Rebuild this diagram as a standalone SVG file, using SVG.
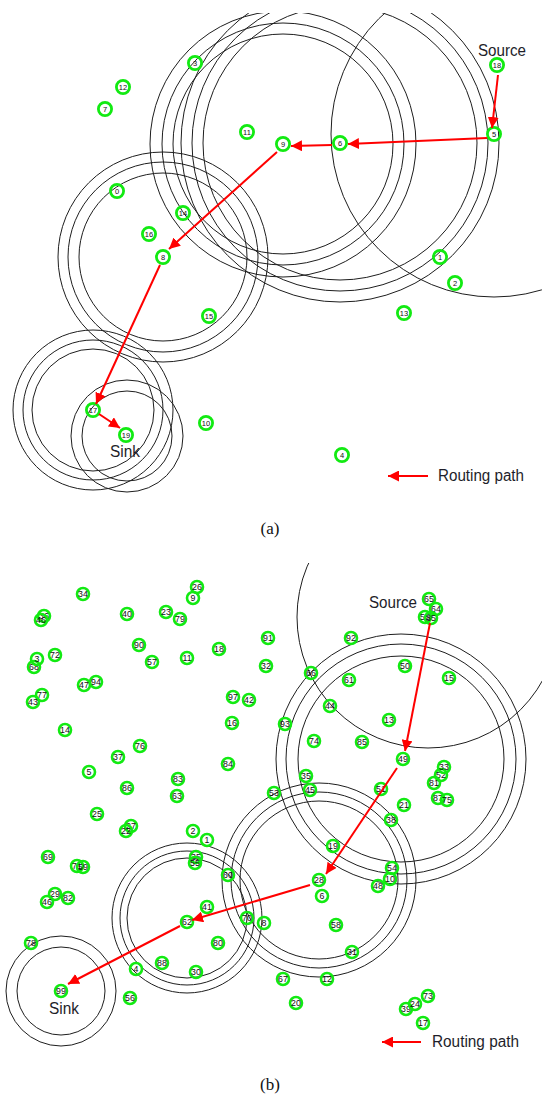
<svg xmlns="http://www.w3.org/2000/svg" width="542" height="1097" viewBox="0 0 542 1097">
<style>
.rc{fill:none;stroke:#1e1e1e;stroke-width:1}
.na circle{fill:none;stroke:#12ea12;stroke-width:2.8}
.na text{font-family:"Liberation Sans",Arial,sans-serif;font-size:7.5px;fill:#111;text-anchor:middle;dominant-baseline:central}
.nb circle{fill:none;stroke:#12ea12;stroke-width:2.6}
.nb text{font-family:"Liberation Sans",Arial,sans-serif;font-size:8.8px;fill:#111;text-anchor:middle;dominant-baseline:central}
.rp{stroke:#f00;stroke-width:2;fill:none;marker-end:url(#ah)}
.lab{font-family:"Liberation Sans",Arial,sans-serif;font-size:16px;fill:#1e1e2a}
.cap{font-family:"Liberation Serif","Times New Roman",serif;font-size:17px;fill:#111;text-anchor:middle}
</style>
<defs>
<marker id="ah" markerUnits="userSpaceOnUse" markerWidth="12" markerHeight="11" refX="11" refY="5.5" orient="auto">
<path d="M0,0 L11,5.5 L0,11 Z" fill="#f00"/>
</marker>
<clipPath id="ca"><rect x="0" y="13" width="542" height="520"/></clipPath>
<clipPath id="cb"><rect x="0" y="563" width="542" height="520"/></clipPath>
</defs>
<rect width="542" height="1097" fill="#fff"/>

<!-- Panel (a) range circles -->
<g id="a-ranges" clip-path="url(#ca)">
<circle class="rc" cx="283" cy="144" r="110"/>
<circle class="rc" cx="283" cy="144" r="121"/>
<circle class="rc" cx="283" cy="144" r="133"/>
<circle class="rc" cx="340" cy="143" r="137"/>
<circle class="rc" cx="340" cy="143" r="148"/>
<circle class="rc" cx="340" cy="143" r="159"/>
<circle class="rc" cx="494" cy="134" r="163"/>
<circle class="rc" cx="163" cy="257" r="84"/>
<circle class="rc" cx="163" cy="257" r="95"/>
<circle class="rc" cx="163" cy="257" r="105"/>
<circle class="rc" cx="93" cy="410" r="61"/>
<circle class="rc" cx="93" cy="410" r="70"/>
<circle class="rc" cx="93" cy="410" r="80"/>
<circle class="rc" cx="127" cy="436" r="45"/>
<circle class="rc" cx="127" cy="436" r="56"/>
</g>

<!-- Panel (a) nodes -->
<g id="a-nodes" class="na">
<g id="a-n0"><circle cx="117" cy="191" r="6.6"/><text x="117" y="191">0</text></g>
<g id="a-n1"><circle cx="440" cy="257" r="6.6"/><text x="440" y="257">1</text></g>
<g id="a-n2"><circle cx="455" cy="283" r="6.6"/><text x="455" y="283">2</text></g>
<g id="a-n3"><circle cx="195" cy="63" r="6.6"/><text x="195" y="63">3</text></g>
<g id="a-n4"><circle cx="342" cy="455" r="6.6"/><text x="342" y="455">4</text></g>
<g id="a-n5"><circle cx="494" cy="134" r="6.6"/><text x="494" y="134">5</text></g>
<g id="a-n6"><circle cx="340" cy="143" r="6.6"/><text x="340" y="143">6</text></g>
<g id="a-n7"><circle cx="105" cy="109" r="6.6"/><text x="105" y="109">7</text></g>
<g id="a-n8"><circle cx="163" cy="257" r="6.6"/><text x="163" y="257">8</text></g>
<g id="a-n9"><circle cx="283" cy="144" r="6.6"/><text x="283" y="144">9</text></g>
<g id="a-n10"><circle cx="206" cy="423" r="6.6"/><text x="206" y="423">10</text></g>
<g id="a-n11"><circle cx="247" cy="132" r="6.6"/><text x="247" y="132">11</text></g>
<g id="a-n12"><circle cx="123" cy="87" r="6.6"/><text x="123" y="87">12</text></g>
<g id="a-n13"><circle cx="404" cy="313" r="6.6"/><text x="404" y="313">13</text></g>
<g id="a-n14"><circle cx="183" cy="213" r="6.6"/><text x="183" y="213">14</text></g>
<g id="a-n15"><circle cx="209" cy="316" r="6.6"/><text x="209" y="316">15</text></g>
<g id="a-n16"><circle cx="149" cy="234" r="6.6"/><text x="149" y="234">16</text></g>
<g id="a-n17"><circle cx="93" cy="410" r="6.6"/><text x="93" y="410">17</text></g>
<g id="a-n18"><circle cx="497" cy="65" r="6.6"/><text x="497" y="65">18</text></g>
<g id="a-n19"><circle cx="126" cy="435" r="6.6"/><text x="126" y="435">19</text></g>
</g>

<!-- Panel (a) connectors -->
<g id="a-connectors">
<line class="rp" x1="498" y1="75" x2="492" y2="128"/>
<line class="rp" x1="487" y1="138" x2="348" y2="144"/>
<line class="rp" x1="332" y1="145" x2="291" y2="146"/>
<line class="rp" x1="277" y1="152" x2="169" y2="249"/>
<line class="rp" x1="160" y1="265" x2="96" y2="404"/>
<line class="rp" x1="99" y1="414" x2="120" y2="428"/>
<line class="rp" x1="428" y1="476" x2="388" y2="476"/>
</g>

<!-- Panel (a) texts -->
<g id="a-texts">
<text class="lab" x="478" y="56" textLength="48" lengthAdjust="spacingAndGlyphs">Source</text>
<text class="lab" x="110" y="457" textLength="30" lengthAdjust="spacingAndGlyphs">Sink</text>
<text class="lab" x="438" y="481" textLength="86" lengthAdjust="spacingAndGlyphs">Routing path</text>
<text class="cap" x="270" y="534">(a)</text>
</g>

<!-- Panel (b) range circles -->
<g id="b-ranges" clip-path="url(#cb)">
<circle class="rc" cx="428" cy="617" r="131"/>
<circle class="rc" cx="401" cy="759" r="103"/>
<circle class="rc" cx="401" cy="759" r="115"/>
<circle class="rc" cx="401" cy="759" r="125"/>
<circle class="rc" cx="319" cy="880" r="79"/>
<circle class="rc" cx="319" cy="880" r="88"/>
<circle class="rc" cx="319" cy="880" r="97"/>
<circle class="rc" cx="187" cy="918" r="60"/>
<circle class="rc" cx="187" cy="918" r="67"/>
<circle class="rc" cx="187" cy="918" r="75"/>
<circle class="rc" cx="61" cy="991" r="44"/>
<circle class="rc" cx="61" cy="991" r="55"/>
</g>

<!-- Panel (b) nodes -->
<g id="b-nodes" class="nb">
<g id="b-n34"><circle cx="83" cy="594" r="6"/><text x="83" y="594">34</text></g>
<g id="b-n26"><circle cx="197" cy="587" r="6"/><text x="197" y="587">26</text></g>
<g id="b-n9"><circle cx="193" cy="598" r="6"/><text x="193" y="598">9</text></g>
<g id="b-n40"><circle cx="127" cy="614" r="6"/><text x="127" y="614">40</text></g>
<g id="b-n23"><circle cx="166" cy="612" r="6"/><text x="166" y="612">23</text></g>
<g id="b-n79"><circle cx="180" cy="619" r="6"/><text x="180" y="619">79</text></g>
<g id="b-n36"><circle cx="44" cy="616" r="6"/><text x="44" y="616">36</text></g>
<g id="b-n96"><circle cx="41" cy="620" r="6"/><text x="41" y="620">46</text></g>
<g id="b-n91"><circle cx="268" cy="638" r="6"/><text x="268" y="638">91</text></g>
<g id="b-n92"><circle cx="351" cy="638" r="6"/><text x="351" y="638">92</text></g>
<g id="b-n65"><circle cx="429" cy="599" r="6"/><text x="429" y="599">65</text></g>
<g id="b-n64"><circle cx="436" cy="609" r="6"/><text x="436" y="609">64</text></g>
<g id="b-n55"><circle cx="425" cy="617" r="6"/><text x="425" y="617">55</text></g>
<g id="b-n85s"><circle cx="431" cy="618" r="6"/><text x="431" y="618">85</text></g>
<g id="b-n72"><circle cx="55" cy="655" r="6"/><text x="55" y="655">72</text></g>
<g id="b-n68"><circle cx="34" cy="667" r="6"/><text x="34" y="667">68</text></g>
<g id="b-n3"><circle cx="37" cy="659" r="6"/><text x="37" y="659">3</text></g>
<g id="b-n90"><circle cx="139" cy="645" r="6"/><text x="139" y="645">90</text></g>
<g id="b-n57"><circle cx="152" cy="662" r="6"/><text x="152" y="662">57</text></g>
<g id="b-n11"><circle cx="187" cy="658" r="6"/><text x="187" y="658">11</text></g>
<g id="b-n18"><circle cx="219" cy="649" r="6"/><text x="219" y="649">18</text></g>
<g id="b-n32"><circle cx="266" cy="666" r="6"/><text x="266" y="666">32</text></g>
<g id="b-n66"><circle cx="311" cy="673" r="6"/><text x="311" y="673">66</text></g>
<g id="b-n61"><circle cx="349" cy="680" r="6"/><text x="349" y="680">61</text></g>
<g id="b-n50"><circle cx="405" cy="666" r="6"/><text x="405" y="666">50</text></g>
<g id="b-n15"><circle cx="449" cy="678" r="6"/><text x="449" y="678">15</text></g>
<g id="b-n47"><circle cx="84" cy="685" r="6"/><text x="84" y="685">47</text></g>
<g id="b-n94"><circle cx="96" cy="682" r="6"/><text x="96" y="682">94</text></g>
<g id="b-n77"><circle cx="42" cy="695" r="6"/><text x="42" y="695">77</text></g>
<g id="b-n43"><circle cx="33" cy="702" r="6"/><text x="33" y="702">43</text></g>
<g id="b-n97"><circle cx="233" cy="697" r="6"/><text x="233" y="697">97</text></g>
<g id="b-n42"><circle cx="249" cy="700" r="6"/><text x="249" y="700">42</text></g>
<g id="b-n44"><circle cx="330" cy="706" r="6"/><text x="330" y="706">44</text></g>
<g id="b-n16"><circle cx="232" cy="723" r="6"/><text x="232" y="723">16</text></g>
<g id="b-n93"><circle cx="285" cy="724" r="6"/><text x="285" y="724">93</text></g>
<g id="b-n13"><circle cx="389" cy="720" r="6"/><text x="389" y="720">13</text></g>
<g id="b-n14"><circle cx="65" cy="730" r="6"/><text x="65" y="730">14</text></g>
<g id="b-n74"><circle cx="314" cy="741" r="6"/><text x="314" y="741">74</text></g>
<g id="b-n85"><circle cx="362" cy="742" r="6"/><text x="362" y="742">85</text></g>
<g id="b-n37"><circle cx="118" cy="757" r="6"/><text x="118" y="757">37</text></g>
<g id="b-n76"><circle cx="140" cy="746" r="6"/><text x="140" y="746">76</text></g>
<g id="b-n49"><circle cx="403" cy="759" r="6"/><text x="403" y="759">49</text></g>
<g id="b-n84"><circle cx="228" cy="764" r="6"/><text x="228" y="764">84</text></g>
<g id="b-n5"><circle cx="89" cy="772" r="6"/><text x="89" y="772">5</text></g>
<g id="b-n83"><circle cx="178" cy="779" r="6"/><text x="178" y="779">83</text></g>
<g id="b-n86"><circle cx="127" cy="788" r="6"/><text x="127" y="788">86</text></g>
<g id="b-n63"><circle cx="177" cy="796" r="6"/><text x="177" y="796">63</text></g>
<g id="b-n35"><circle cx="306" cy="776" r="6"/><text x="306" y="776">35</text></g>
<g id="b-n45"><circle cx="310" cy="790" r="6"/><text x="310" y="790">45</text></g>
<g id="b-n53"><circle cx="274" cy="793" r="6"/><text x="274" y="793">53</text></g>
<g id="b-n51"><circle cx="381" cy="789" r="6"/><text x="381" y="789">51</text></g>
<g id="b-n52"><circle cx="441" cy="775" r="6"/><text x="441" y="775">52</text></g>
<g id="b-n33"><circle cx="444" cy="767" r="6"/><text x="444" y="767">33</text></g>
<g id="b-n81"><circle cx="434" cy="783" r="6"/><text x="434" y="783">81</text></g>
<g id="b-n87"><circle cx="438" cy="798" r="6"/><text x="438" y="798">87</text></g>
<g id="b-n75"><circle cx="447" cy="800" r="6"/><text x="447" y="800">75</text></g>
<g id="b-n21"><circle cx="404" cy="805" r="6"/><text x="404" y="805">21</text></g>
<g id="b-n38"><circle cx="391" cy="820" r="6"/><text x="391" y="820">38</text></g>
<g id="b-n25"><circle cx="97" cy="814" r="6"/><text x="97" y="814">25</text></g>
<g id="b-n27"><circle cx="131" cy="826" r="6"/><text x="131" y="826">27</text></g>
<g id="b-n22"><circle cx="126" cy="831" r="6"/><text x="126" y="831">22</text></g>
<g id="b-n2"><circle cx="193" cy="831" r="6"/><text x="193" y="831">2</text></g>
<g id="b-n1"><circle cx="207" cy="840" r="6"/><text x="207" y="840">1</text></g>
<g id="b-n19"><circle cx="333" cy="846" r="6"/><text x="333" y="846">19</text></g>
<g id="b-n69"><circle cx="48" cy="857" r="6"/><text x="48" y="857">69</text></g>
<g id="b-n71"><circle cx="77" cy="866" r="6"/><text x="77" y="866">71</text></g>
<g id="b-n59"><circle cx="83" cy="867" r="6"/><text x="83" y="867">59</text></g>
<g id="b-n29"><circle cx="55" cy="894" r="6"/><text x="55" y="894">29</text></g>
<g id="b-n82"><circle cx="68" cy="898" r="6"/><text x="68" y="898">82</text></g>
<g id="b-n46"><circle cx="47" cy="902" r="6"/><text x="47" y="902">46</text></g>
<g id="b-n35b"><circle cx="196" cy="857" r="6"/><text x="196" y="857">35</text></g>
<g id="b-n55b"><circle cx="195" cy="863" r="6"/><text x="195" y="863">55</text></g>
<g id="b-n60"><circle cx="228" cy="875" r="6"/><text x="228" y="875">60</text></g>
<g id="b-n54"><circle cx="392" cy="868" r="6"/><text x="392" y="868">54</text></g>
<g id="b-n10"><circle cx="390" cy="879" r="6"/><text x="390" y="879">10</text></g>
<g id="b-n48"><circle cx="378" cy="886" r="6"/><text x="378" y="886">48</text></g>
<g id="b-n28"><circle cx="319" cy="880" r="6"/><text x="319" y="880">28</text></g>
<g id="b-n6"><circle cx="322" cy="896" r="6"/><text x="322" y="896">6</text></g>
<g id="b-n41"><circle cx="207" cy="907" r="6"/><text x="207" y="907">41</text></g>
<g id="b-n62"><circle cx="187" cy="922" r="6"/><text x="187" y="922">62</text></g>
<g id="b-n70"><circle cx="247" cy="918" r="6"/><text x="247" y="918">70</text></g>
<g id="b-n8"><circle cx="264" cy="923" r="6"/><text x="264" y="923">8</text></g>
<g id="b-n58"><circle cx="336" cy="925" r="6"/><text x="336" y="925">58</text></g>
<g id="b-n78"><circle cx="31" cy="943" r="6"/><text x="31" y="943">78</text></g>
<g id="b-n80"><circle cx="218" cy="943" r="6"/><text x="218" y="943">80</text></g>
<g id="b-n4"><circle cx="136" cy="969" r="6"/><text x="136" y="969">4</text></g>
<g id="b-n88"><circle cx="162" cy="963" r="6"/><text x="162" y="963">88</text></g>
<g id="b-n30"><circle cx="196" cy="972" r="6"/><text x="196" y="972">30</text></g>
<g id="b-n31"><circle cx="352" cy="952" r="6"/><text x="352" y="952">31</text></g>
<g id="b-n67"><circle cx="283" cy="979" r="6"/><text x="283" y="979">67</text></g>
<g id="b-n12"><circle cx="327" cy="979" r="6"/><text x="327" y="979">12</text></g>
<g id="b-n99"><circle cx="61" cy="991" r="6"/><text x="61" y="991">99</text></g>
<g id="b-n56"><circle cx="130" cy="998" r="6"/><text x="130" y="998">56</text></g>
<g id="b-n20"><circle cx="296" cy="1003" r="6"/><text x="296" y="1003">20</text></g>
<g id="b-n73"><circle cx="428" cy="996" r="6"/><text x="428" y="996">73</text></g>
<g id="b-n39"><circle cx="406" cy="1009" r="6"/><text x="406" y="1009">39</text></g>
<g id="b-n24"><circle cx="415" cy="1004" r="6"/><text x="415" y="1004">24</text></g>
<g id="b-n17"><circle cx="423" cy="1023" r="6"/><text x="423" y="1023">17</text></g>
</g>

<!-- Panel (b) connectors -->
<g id="b-connectors">
<line class="rp" x1="430" y1="623" x2="405" y2="751"/>
<line class="rp" x1="397" y1="768" x2="326" y2="874"/>
<line class="rp" x1="310" y1="885" x2="192" y2="920"/>
<line class="rp" x1="180" y1="926" x2="68" y2="984"/>
<line class="rp" x1="421" y1="1042" x2="382" y2="1042"/>
</g>

<!-- Panel (b) texts -->
<g id="b-texts">
<text class="lab" x="369" y="608" textLength="48" lengthAdjust="spacingAndGlyphs">Source</text>
<text class="lab" x="49" y="1014" textLength="30" lengthAdjust="spacingAndGlyphs">Sink</text>
<text class="lab" x="432" y="1047" textLength="87" lengthAdjust="spacingAndGlyphs">Routing path</text>
<text class="cap" x="270" y="1090">(b)</text>
</g>
</svg>
